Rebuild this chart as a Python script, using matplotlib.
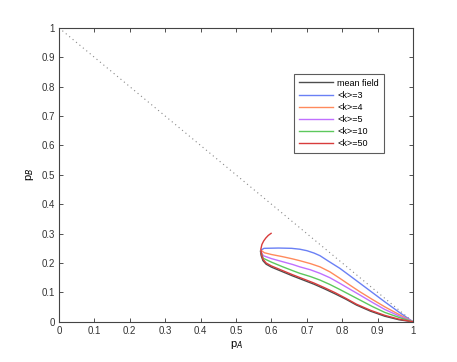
import matplotlib
matplotlib.use("Agg")
import matplotlib.pyplot as plt
import numpy as np

plt.rcParams['font.family'] = ['Liberation Sans', 'DejaVu Sans']

# diagonal reference pA + pB = 1
diag_pA = [0.0, 1.0]
diag_pB = [1.0, 0.0]

# mean field (lower branch)
mf_pA = [0.569, 0.571, 0.576, 0.585, 0.600, 0.630, 0.660, 0.690, 0.720, 0.750, 0.780, 0.810, 0.840, 0.880, 0.920, 0.960, 1.0]
mf_pB = [0.240, 0.225, 0.208, 0.196, 0.186, 0.171, 0.156, 0.142, 0.128, 0.112, 0.095, 0.077, 0.057, 0.036, 0.019, 0.007, 0.0]

# <k>=3
k3_pA = [0.572, 0.579, 0.620, 0.657, 0.680, 0.700, 0.720, 0.737, 0.760, 0.793, 0.820, 0.850, 0.880, 0.920, 0.960, 1.0]
k3_pB = [0.245, 0.250, 0.251, 0.250, 0.247, 0.242, 0.234, 0.225, 0.207, 0.182, 0.158, 0.131, 0.104, 0.068, 0.033, 0.0]

# <k>=4
k4_pA = [0.572, 0.580, 0.600, 0.630, 0.660, 0.680, 0.710, 0.737, 0.765, 0.793, 0.820, 0.850, 0.885, 0.920, 0.960, 1.0]
k4_pB = [0.242, 0.235, 0.229, 0.222, 0.214, 0.208, 0.198, 0.187, 0.170, 0.148, 0.126, 0.102, 0.076, 0.051, 0.025, 0.0]

# <k>=5
k5_pA = [0.571, 0.577, 0.600, 0.630, 0.660, 0.680, 0.710, 0.737, 0.765, 0.793, 0.820, 0.850, 0.885, 0.920, 0.960, 1.0]
k5_pB = [0.238, 0.225, 0.215, 0.205, 0.195, 0.187, 0.177, 0.165, 0.150, 0.131, 0.112, 0.091, 0.066, 0.042, 0.020, 0.0]

# <k>=10
k10_pA = [0.571, 0.577, 0.600, 0.630, 0.660, 0.680, 0.710, 0.737, 0.765, 0.793, 0.820, 0.850, 0.885, 0.920, 0.960, 1.0]
k10_pB = [0.235, 0.216, 0.203, 0.188, 0.174, 0.165, 0.154, 0.142, 0.127, 0.110, 0.093, 0.074, 0.052, 0.032, 0.015, 0.0]

# <k>=50
k50_pA = [0.599, 0.591, 0.584, 0.578, 0.573, 0.570, 0.572, 0.576, 0.585, 0.600, 0.630, 0.660, 0.690, 0.720, 0.750, 0.780, 0.810, 0.840, 0.880, 0.920, 0.960, 1.0]
k50_pB = [0.301, 0.294, 0.285, 0.275, 0.263, 0.247, 0.230, 0.213, 0.200, 0.190, 0.175, 0.160, 0.146, 0.132, 0.116, 0.099, 0.080, 0.060, 0.039, 0.022, 0.009, 0.0]

labels = ['mean field', '<k>=3', '<k>=4', '<k>=5', '<k>=10', '<k>=50']
colors = ['#4d4d4d', '#6a80f5', '#ff8a5c', '#c070ff', '#5cc85c', '#d83c3c']

fig = plt.figure(figsize=(4.57, 3.62), dpi=100)
ax = fig.add_axes([0.129, 0.111, 0.775, 0.812])

ax.plot(diag_pA, diag_pB, linestyle=(0, (1, 3)), color='#888888', linewidth=0.8)
series = [(mf_pA, mf_pB), (k3_pA, k3_pB), (k4_pA, k4_pB), (k5_pA, k5_pB),
          (k10_pA, k10_pB), (k50_pA, k50_pB)]
for (xs, ys), lab, c in zip(series, labels, colors):
    ax.plot(xs, ys, color=c, linewidth=1.0, label=lab)

ax.set_xlim(0, 1)
ax.set_ylim(0, 1)
ticks = np.round(np.arange(0, 1.01, 0.1), 1)
ticklabels = ['0'] + ['%.1f' % t for t in ticks[1:-1]] + ['1']
ax.set_xticks(ticks)
ax.set_xticklabels(ticklabels)
ax.set_yticks(ticks)
ax.set_yticklabels(ticklabels)
ax.tick_params(direction='in', top=True, right=True, labelsize=7, length=3,
               width=0.6, colors='#333333', pad=3)
for s in ax.spines.values():
    s.set_color('#444444')
    s.set_linewidth(0.8)

ax.set_xlabel('p$_A$', fontsize=8, labelpad=2)
ax.set_ylabel('p$_B$', fontsize=8, labelpad=4)

leg = ax.legend(loc='upper left', bbox_to_anchor=(0.664, 0.843), fontsize=6.5,
                frameon=True, fancybox=False, edgecolor='#333333',
                handlelength=3.8, borderpad=0.5, labelspacing=0.35,
                handletextpad=0.5, borderaxespad=0)
leg.get_frame().set_linewidth(0.8)

fig.savefig('out.png', dpi=100)
